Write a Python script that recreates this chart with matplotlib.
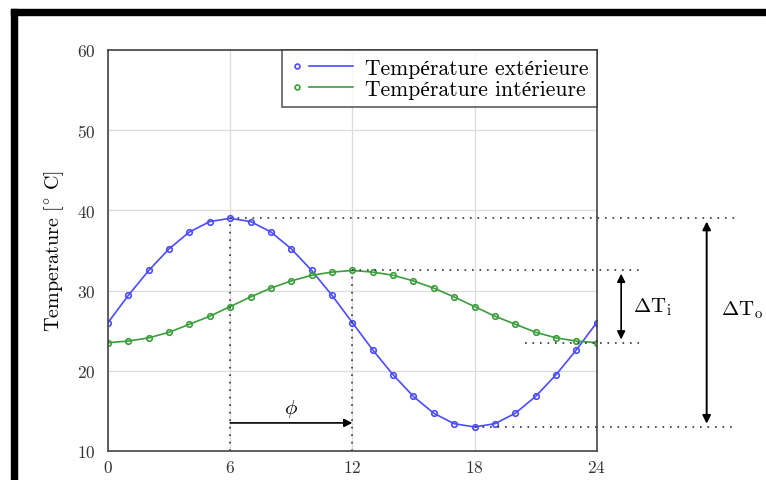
import numpy as np
import matplotlib.pyplot as plt
from matplotlib.lines import Line2D
from matplotlib.legend_handler import HandlerBase
from matplotlib.patches import Rectangle

plt.rcParams['font.family'] = ['cmr10', 'Liberation Serif']
plt.rcParams['mathtext.fontset'] = 'cm'
plt.rcParams['axes.unicode_minus'] = False
plt.rcParams['axes.formatter.use_mathtext'] = True

# hourly values
hours = list(range(25))
t_ext = [26.0, 29.4, 32.5, 35.2, 37.3, 38.6, 39.0, 38.6, 37.3, 35.2, 32.5, 29.4, 26.0,
         22.6, 19.5, 16.8, 14.7, 13.4, 13.0, 13.4, 14.7, 16.8, 19.5, 22.6, 26.0]
t_int = [23.5, 23.7, 24.1, 24.8, 25.8, 26.8, 28.0, 29.2, 30.3, 31.2, 31.9, 32.3, 32.5,
         32.3, 31.9, 31.2, 30.3, 29.2, 28.0, 26.8, 25.8, 24.8, 24.1, 23.7, 23.5]
xticks = [0, 6, 12, 18, 24]
yticks = [10, 20, 30, 40, 50, 60]

blue = '#4b4bff'
green = '#3a9e3a'


class MarkThenLine(HandlerBase):
    # legend image: small circle, then a short line
    def create_artists(self, legend, orig, xd, yd, w, h, fontsize, trans):
        y = h / 2 - yd
        c = orig.get_color()
        m = Line2D([-xd + 0.1 * w], [y], marker='o', ms=3.5, mfc='none', mec=c,
                   mew=1.2, ls='none', transform=trans)
        ln = Line2D([-xd + 0.3 * w, -xd + w], [y, y], color=c, lw=1.2, transform=trans)
        return [m, ln]


fig = plt.figure(figsize=(7.66, 4.81), dpi=100)
ax = fig.add_axes([0.141, 0.0603, 0.638, 0.834])

ax.plot(hours, t_ext, color=blue, lw=1.2, marker='o', ms=4, mfc='none', mew=1.2,
        label='Température extérieure')
ax.plot(hours, t_int, color=green, lw=1.2, marker='o', ms=4, mfc='none', mew=1.2,
        label='Température intérieure')

ax.set_xlim(0, 24)
ax.set_ylim(10, 60)
ax.set_xticks(xticks)
ax.set_yticks(yticks)
ax.grid(True, color='#dcdcdc', lw=0.9)
ax.set_axisbelow(True)
ax.tick_params(direction='in', length=0, labelsize=12.5, labelcolor='#333333')
ax.tick_params(axis='y', pad=9)
ax.tick_params(axis='x', pad=6)
for s in ax.spines.values():
    s.set_color('#444444')
    s.set_linewidth(1.2)
ax.set_ylabel('Temperature [$^{\\circ}$ C]', fontsize=14.5, labelpad=8)

# dotted guide lines, running past the axes on the right
dot = dict(color='#333333', lw=1.2, ls=(0, (1, 3.5)), clip_on=False)
ax.plot([6, 6], [10, t_ext[6]], **dot)
ax.plot([12, 12], [10, t_int[12]], **dot)
ax.plot([6, 30.8], [t_ext[6], t_ext[6]], **dot)
ax.plot([12, 26.1], [t_int[12], t_int[12]], **dot)
ax.plot([20.5, 26.1], [t_int[24], t_int[24]], **dot)
ax.plot([18, 30.8], [t_ext[18], t_ext[18]], **dot)

# phase shift arrow
ax.annotate('', xy=(12, 13.5), xytext=(6, 13.5),
            arrowprops=dict(arrowstyle='-|>', color='black', lw=1.2, mutation_scale=12,
                            shrinkA=0, shrinkB=0))
ax.text(9, 15.3, r'$\phi$', fontsize=15, ha='center', va='center')

# amplitude arrows
ax.annotate('', xy=(25.2, t_int[12] - 0.4), xytext=(25.2, t_int[0] + 0.4),
            arrowprops=dict(arrowstyle='<|-|>', color='black', lw=1.2, mutation_scale=12,
                            shrinkA=0, shrinkB=0), annotation_clip=False)
ax.text(25.8, 28.0, r'$\Delta\mathrm{T_i}$', fontsize=15, ha='left', va='center')
ax.annotate('', xy=(29.4, t_ext[6] - 0.4), xytext=(29.4, t_ext[18] + 0.4),
            arrowprops=dict(arrowstyle='<|-|>', color='black', lw=1.4, mutation_scale=12,
                            shrinkA=0, shrinkB=0), annotation_clip=False)
ax.text(30.1, 27.7, r'$\Delta\mathrm{T_o}$', fontsize=15, ha='left', va='center')

leg = ax.legend(loc='upper right', bbox_to_anchor=(1.0, 1.0), fontsize=15.5,
                handler_map={Line2D: MarkThenLine()}, handlelength=2.9,
                handletextpad=0.55, borderaxespad=0, frameon=True, fancybox=False,
                borderpad=0.4, labelspacing=0.05)
leg.get_frame().set_edgecolor('#333333')
leg.get_frame().set_linewidth(1.2)

# black frame of the screenshot (top and left)
fig.patches.append(Rectangle((11 / 766, 1 - 16 / 481), 1, 6 / 481, transform=fig.transFigure,
                             color='black', zorder=10))
fig.patches.append(Rectangle((11 / 766, 0), 6 / 766, 1 - 10 / 481, transform=fig.transFigure,
                             color='black', zorder=10))

fig.savefig('out.png', dpi=100)
